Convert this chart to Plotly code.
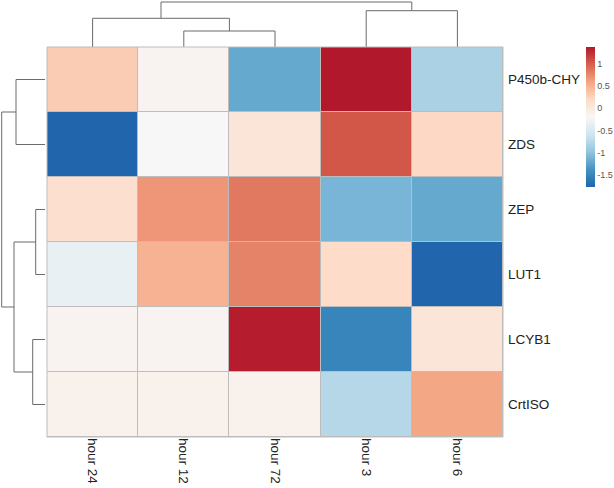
import plotly.graph_objects as go

# ---- data (row-scaled expression) ----
columns = ["hour 24", "hour 12", "hour 72", "hour 3", "hour 6"]
rows = ["P450b-CHY", "ZDS", "ZEP", "LUT1", "LCYB1", "CrtISO"]
p450b_chy = [0.32, -0.13, -1.21, 1.40, -0.83]
zds = [-1.78, -0.19, 0.06, 1.05, 0.22]
zep = [0.15, 0.69, 0.86, -1.11, -1.21]
lut1 = [-0.35, 0.51, 0.80, 0.18, -1.78]
lcyb1 = [-0.13, -0.13, 1.37, -1.51, 0.06]
crtiso = [-0.10, -0.10, -0.10, -0.76, 0.59]

# dendrogram merges (leaf indices in display order; new clusters numbered n, n+1, ...)
col_merges = [(1, 2, 1.60), (3, 4, 3.63), (0, 5, 2.87), (6, 7, 4.50)]
row_merges = [(0, 1, 2.90), (2, 3, 0.93), (4, 5, 1.23), (7, 8, 3.10), (6, 9, 4.33)]

colorbar_ticks = [-1.5, -1, -0.5, 0, 0.5, 1]
rdbu9 = ["#2166AC", "#4393C3", "#92C5DE", "#D1E5F0", "#F7F7F7",
         "#FDDBC7", "#F4A582", "#D6604D", "#B2182B"]

z = [p450b_chy, zds, zep, lut1, lcyb1, crtiso]
zmin = min(min(r) for r in z)
zmax = max(max(r) for r in z)


def dendro_segments(n, merges):
    pos = {i: float(i) for i in range(n)}
    hgt = {i: 0.0 for i in range(n)}
    p, h = [], []
    for k, (a, b, d) in enumerate(merges):
        p += [pos[a], pos[a], pos[b], pos[b], None]
        h += [hgt[a], d, d, hgt[b], None]
        pos[n + k] = (pos[a] + pos[b]) / 2
        hgt[n + k] = d
    return p, h


W, H = 614, 488
hm_x0, hm_x1 = 47 / W, 503 / W
hm_y0, hm_y1 = 1 - 437 / H, 1 - 47 / H
FONT = "Liberation Sans, Arial, Helvetica, sans-serif"
LINE = "#6b6b6b"
GRID = "#bdbdbd"

fig = go.Figure()

fig.add_trace(go.Heatmap(
    z=z, x=list(range(len(columns))), y=list(range(len(rows))),
    colorscale=[[i / (len(rdbu9) - 1), c] for i, c in enumerate(rdbu9)],
    zmin=zmin, zmax=zmax, xgap=1, ygap=1,
    colorbar=dict(
        x=586 / W, xanchor="left", y=1 - 46.7 / H, yanchor="top",
        xpad=0, ypad=0,
        thickness=9, thicknessmode="pixels", len=140 / H, lenmode="fraction",
        outlinewidth=0, ticks="", tickvals=colorbar_ticks,
        ticktext=[("%g" % v) for v in colorbar_ticks],
        tickfont=dict(size=9, color="#555555", family=FONT),
    ),
    xaxis="x", yaxis="y", hoverinfo="skip",
))

cx, ch = dendro_segments(len(columns), col_merges)
fig.add_trace(go.Scatter(x=cx, y=ch, mode="lines", line=dict(color=LINE, width=1),
                         xaxis="x2", yaxis="y2", hoverinfo="skip", showlegend=False))
ry, rh = dendro_segments(len(rows), row_merges)
fig.add_trace(go.Scatter(x=rh, y=ry, mode="lines", line=dict(color=LINE, width=1),
                         xaxis="x3", yaxis="y3", hoverinfo="skip", showlegend=False))

cmax = max(m[2] for m in col_merges)
rmax = max(m[2] for m in row_merges)
noaxis = dict(showgrid=False, zeroline=False, showticklabels=False, ticks="",
              showline=False, automargin=False)

fig.update_layout(
    width=W, height=H, margin=dict(l=0, r=0, t=0, b=0, autoexpand=False),
    paper_bgcolor="white", plot_bgcolor="white", showlegend=False,
    font=dict(family=FONT, color="#222222"),
    xaxis=dict(domain=[hm_x0, hm_x1], range=[-0.5, len(columns) - 0.5],
               tickvals=list(range(len(columns))), ticktext=columns, tickangle=90,
               ticks="", showgrid=False, zeroline=False, showline=False,
               tickfont=dict(size=13.5, color="#222222"), anchor="y", automargin=False),
    yaxis=dict(domain=[hm_y0, hm_y1], range=[len(rows) - 0.5, -0.5],
               tickvals=list(range(len(rows))), ticktext=rows, side="right",
               ticks="", showgrid=False, zeroline=False, showline=False,
               tickfont=dict(size=13.5, color="#222222"), anchor="x",
               ticklabelstandoff=4, automargin=False),
    xaxis2=dict(domain=[hm_x0, hm_x1], range=[-0.5, len(columns) - 0.5], anchor="y2", **noaxis),
    yaxis2=dict(domain=[hm_y1, 1 - 1 / H], range=[0, cmax * (46 / 45)], anchor="x2", **noaxis),
    xaxis3=dict(domain=[1 / W, 45 / W], range=[rmax * (44 / 43.3), 0], anchor="y3", **noaxis),
    yaxis3=dict(domain=[hm_y0, hm_y1], range=[len(rows) - 0.5, -0.5], anchor="x3", **noaxis),
    shapes=[
        dict(type="rect", xref="x domain", yref="y domain", x0=0, x1=1, y0=0, y1=1,
             fillcolor=GRID, line=dict(width=0), layer="below"),
        dict(type="rect", xref="x domain", yref="y domain", x0=0, x1=1, y0=0, y1=1,
             fillcolor="rgba(0,0,0,0)", line=dict(width=1, color=GRID), layer="above"),
    ],
)

fig.write_html("out.html", config={"displayModeBar": False, "staticPlot": True},
               post_script="document.body.style.margin='0';")
